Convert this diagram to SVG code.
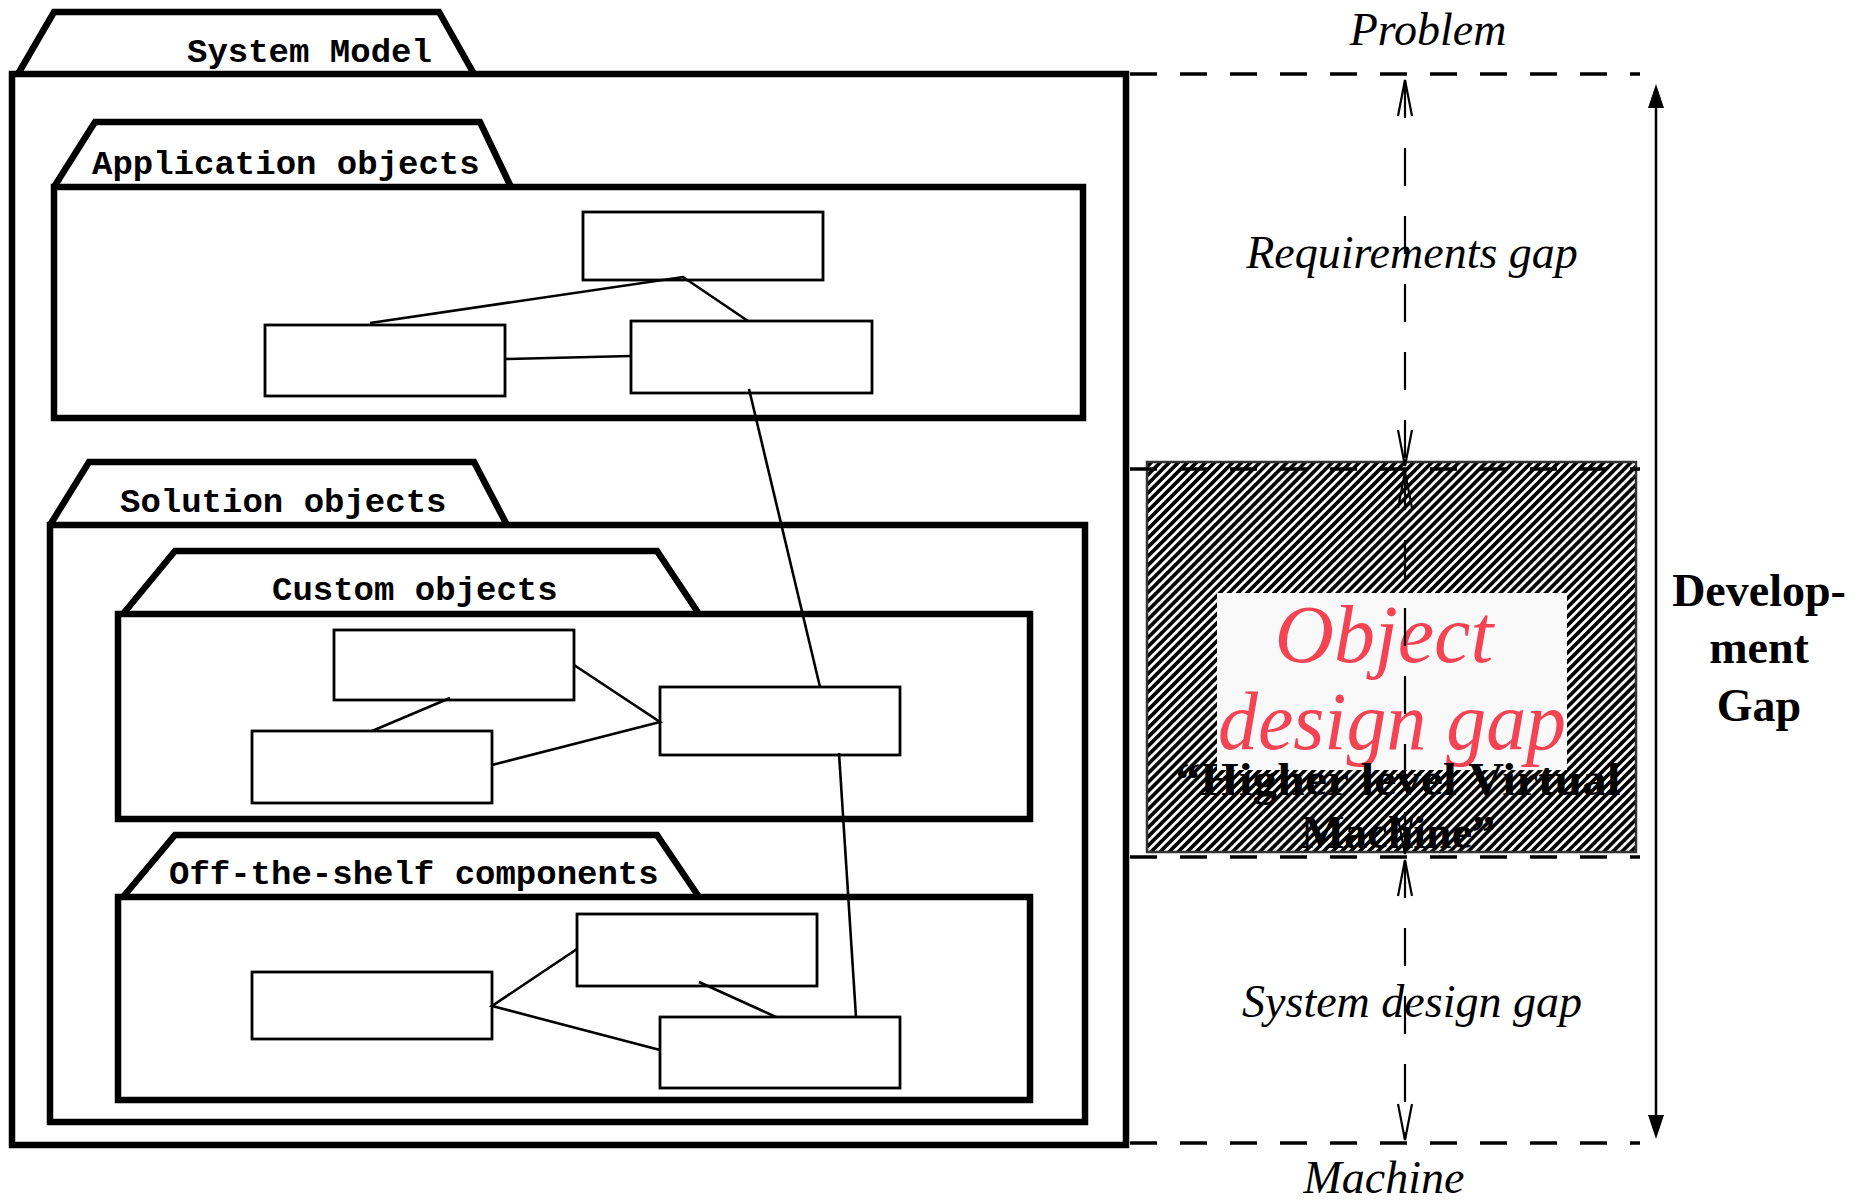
<svg xmlns="http://www.w3.org/2000/svg" width="1871" height="1202" viewBox="0 0 1871 1202">
<style>
.pkg{fill:none;stroke:#000;stroke-width:6.5;stroke-linejoin:miter}
.tab{fill:#fff;stroke:#000;stroke-width:6.5;stroke-linejoin:miter}
.obj{fill:#fff;stroke:#000;stroke-width:2.8}
.ln{fill:none;stroke:#000;stroke-width:2.6}
.lbl{font-family:"Liberation Mono","DejaVu Sans Mono",monospace;font-weight:bold;font-size:34px;fill:#000}
.it{font-family:"Liberation Serif","DejaVu Serif",serif;font-style:italic;font-size:46px;fill:#000}
.bd{font-family:"Liberation Serif","DejaVu Serif",serif;font-weight:bold;font-size:46px;fill:#000}
.dash{fill:none;stroke:#000;stroke-width:3.3;stroke-dasharray:27,23}
.vdash{fill:none;stroke:#000;stroke-width:2.2;stroke-dasharray:38,30}
.head{fill:none;stroke:#000;stroke-width:2.2}
</style>
<defs>
<pattern id="hatch" width="6.4" height="6.4" patternUnits="userSpaceOnUse" patternTransform="rotate(45)">
<rect x="0" y="0" width="3.3" height="6.4" fill="#000" shape-rendering="crispEdges"/>
</pattern>
</defs>
<rect width="1871" height="1202" fill="#fff"/>

<g id="system-model">
<path class="tab" d="M18,74 L54,12 L439,12 L474,74"/>
<rect class="pkg" x="12" y="74" width="1114" height="1071"/>
<text class="lbl" x="187" y="62">System Model</text>
</g>

<g id="application-objects">
<path class="tab" d="M54,187 L95,122 L480,122 L511,187"/>
<rect class="pkg" x="54" y="187" width="1029" height="231"/>
<text class="lbl" x="92" y="174">Application objects</text>
<rect id="a1" class="obj" x="583" y="212" width="240" height="68"/>
<rect id="a2" class="obj" x="265" y="325" width="240" height="71"/>
<rect id="a3" class="obj" x="631" y="321" width="241" height="72"/>
</g>

<g id="solution-objects">
<path class="tab" d="M50,525 L89,462 L474,462 L507,525"/>
<rect class="pkg" x="50" y="525" width="1035" height="597"/>
<text class="lbl" x="120" y="512">Solution objects</text>
</g>

<g id="custom-objects">
<path class="tab" d="M123,614 L175,551 L657,551 L699,614"/>
<rect class="pkg" x="118" y="614" width="912" height="205"/>
<text class="lbl" x="272" y="600">Custom objects</text>
<rect id="c1" class="obj" x="334" y="630" width="240" height="70"/>
<rect id="c2" class="obj" x="252" y="731" width="240" height="72"/>
<rect id="c3" class="obj" x="660" y="687" width="240" height="68"/>
</g>

<g id="off-the-shelf">
<path class="tab" d="M123,897 L175,835 L657,835 L699,897"/>
<rect class="pkg" x="118" y="897" width="912" height="203"/>
<text class="lbl" x="169" y="884">Off-the-shelf components</text>
<rect id="o1" class="obj" x="252" y="972" width="240" height="67"/>
<rect id="o2" class="obj" x="577" y="914" width="240" height="72"/>
<rect id="o3" class="obj" x="660" y="1017" width="240" height="71"/>
</g>

<g id="connectors">
<path class="ln" d="M370,323 L683,277 L748,321"/>
<path class="ln" d="M505,359 L631,356"/>
<path class="ln" d="M749,389 L820,687"/>
<path class="ln" d="M372,731 L450,698"/>
<path class="ln" d="M574,665 L660,722 L492,765"/>
<path class="ln" d="M839,753 L856,1017"/>
<path class="ln" d="M577,949 L492,1006 L660,1050"/>
<path class="ln" d="M699,982 L776,1017"/>
</g>

<g id="object-design-gap">
<rect x="1147" y="462" width="489" height="390" fill="url(#hatch)" stroke="#333" stroke-width="2.5"/>
<rect x="1217" y="593" width="350" height="177" fill="#f9f9f9"/>
<text x="1384" y="662" text-anchor="middle" font-family="'Liberation Serif','DejaVu Serif',serif" font-style="italic" font-size="82" fill="#f44352">Object</text>
<text x="1392" y="749" text-anchor="middle" font-family="'Liberation Serif','DejaVu Serif',serif" font-style="italic" font-size="82" fill="#f44352" textLength="348" lengthAdjust="spacingAndGlyphs">design gap</text>
<text class="bd" x="1398" y="795" text-anchor="middle" textLength="445" lengthAdjust="spacingAndGlyphs">“Higher level  Virtual</text>
<text class="bd" x="1398" y="848" text-anchor="middle">Machine”</text>
</g>

<g id="levels">
<path class="dash" d="M1130,74 H1640"/>
<path class="dash" d="M1130,469 H1640"/>
<path class="dash" d="M1130,857 H1640"/>
<path class="dash" d="M1130,1143 H1640"/>
<text class="it" x="1428" y="45" text-anchor="middle">Problem</text>
<text class="it" x="1384" y="1193" text-anchor="middle">Machine</text>
</g>

<g id="gap-arrows">
<path class="vdash" d="M1405,80 V466"/>
<path class="vdash" d="M1405,472 V854"/>
<path class="vdash" d="M1405,860 V1140"/>
<path class="head" d="M1398,116 L1405,80 L1412,116"/>
<path class="head" d="M1398,430 L1405,466 L1412,430"/>
<path class="head" d="M1398,508 L1405,472 L1412,508"/>
<path class="head" d="M1398,818 L1405,854 L1412,818"/>
<path class="head" d="M1398,896 L1405,860 L1412,896"/>
<path class="head" d="M1398,1104 L1405,1140 L1412,1104"/>
<text class="it" x="1412" y="268" text-anchor="middle">Requirements gap</text>
<text class="it" x="1412" y="1017" text-anchor="middle">System design gap</text>
</g>

<g id="development-gap">
<path d="M1656,100 V1122" stroke="#000" stroke-width="2.5" fill="none"/>
<path d="M1656,84 L1648,108 L1664,108 Z" fill="#000"/>
<path d="M1656,1139 L1648,1115 L1664,1115 Z" fill="#000"/>
<text class="bd" x="1759" y="606" text-anchor="middle">Develop-</text>
<text class="bd" x="1759" y="663" text-anchor="middle">ment</text>
<text class="bd" x="1759" y="721" text-anchor="middle">Gap</text>
</g>
</svg>
